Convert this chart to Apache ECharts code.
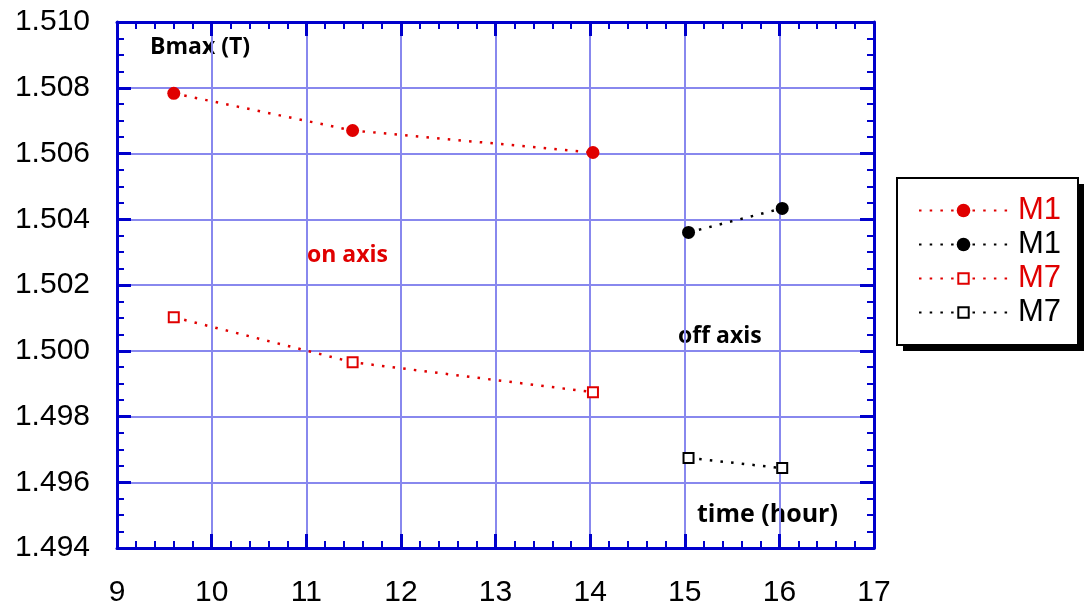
<!DOCTYPE html>
<html><head><meta charset="utf-8">
<script src="https://cdn.jsdelivr.net/npm/echarts@6/dist/echarts.min.js"></script>
<style>html,body{margin:0;padding:0;background:#fff}#c{width:1084px;height:608px}</style>
</head><body><div id="c"></div>
<script>
const m1OnX = [9.6, 11.49, 14.03];
const m1OnY = [1.50783, 1.50670, 1.50603];
const m1OffX = [15.04, 16.03];
const m1OffY = [1.50360, 1.50433];
const m7OnX = [9.6, 11.49, 14.03];
const m7OnY = [1.50102, 1.49965, 1.49874];
const m7OffX = [15.04, 16.03];
const m7OffY = [1.49674, 1.49643];
const pairs = (xs, ys) => xs.map((x, i) => [x, ys[i]]);

const RED = '#e00000', BLUE = '#0000cc', GRID = '#8888ee';
const FONT = 'Liberation Sans, Arial, sans-serif';
const dotted = { width: 2.5, type: [2.5, 8.2] };
const ANN = 'bold 23px "Open Sans", sans-serif';

function axisCommon(showLabel) {
  return {
    axisLine: { show: true, onZero: false, lineStyle: { color: BLUE, width: 3 } },
    axisTick: { show: true, inside: true, length: 14, lineStyle: { color: BLUE, width: 3 } },
    minorTick: { show: true, splitNumber: 5, length: 7, lineStyle: { color: BLUE, width: 2 } },
    axisLabel: { show: showLabel, color: '#000', fontSize: 30, fontFamily: FONT },
  };
}
const legendBase = {
  orient: 'vertical', left: 913, itemWidth: 89, itemGap: 3,
  formatter: n => n.split(' ')[0],
  textStyle: { fontSize: 31, fontFamily: FONT, color: '#000', padding: [0, 0, 0, 5] }
};

const chart = echarts.init(document.getElementById('c'), null, { renderer: 'canvas' });
chart.setOption({
  animation: false,
  grid: { left: 117, right: 210, top: 22, bottom: 60 },
  xAxis: [
    Object.assign(axisCommon(true), { type: 'value', min: 9, max: 17, interval: 1, position: 'bottom',
      splitLine: { show: true, lineStyle: { color: GRID, width: 2 } },
      axisLabel: { show: true, color: '#000', fontSize: 30, fontFamily: FONT, margin: 30 } }),
    Object.assign(axisCommon(false), { type: 'value', min: 9, max: 17, interval: 1, position: 'top', splitLine: { show: false } })
  ],
  yAxis: [
    Object.assign(axisCommon(true), { type: 'value', min: 1.494, max: 1.510, interval: 0.002, position: 'left',
      minorTick: { show: true, splitNumber: 4, length: 7, lineStyle: { color: BLUE, width: 2 } },
      splitLine: { show: true, lineStyle: { color: GRID, width: 2 } },
      axisLabel: { show: true, color: '#000', fontSize: 30, fontFamily: FONT, margin: 27, formatter: v => v.toFixed(3) } }),
    Object.assign(axisCommon(false), { type: 'value', min: 1.494, max: 1.510, interval: 0.002, position: 'right',
      minorTick: { show: true, splitNumber: 4, length: 7, lineStyle: { color: BLUE, width: 2 } },
      splitLine: { show: false } })
  ],
  legend: [
    Object.assign({}, legendBase, { top: 190, itemHeight: 17,
      data: [ { name: 'M1 on', textStyle: { color: RED } }, { name: 'M1 off' } ] }),
    Object.assign({}, legendBase, { top: 258, itemHeight: 13,
      data: [ { name: 'M7 on', textStyle: { color: RED } }, { name: 'M7 off' } ] })
  ],
  series: [
    { name: 'M1 on', type: 'line', data: pairs(m1OnX, m1OnY), symbol: 'circle', symbolSize: 13,
      itemStyle: { color: RED }, lineStyle: Object.assign({ color: RED }, dotted) },
    { name: 'M1 off', type: 'line', data: pairs(m1OffX, m1OffY), symbol: 'circle', symbolSize: 13,
      itemStyle: { color: '#000' }, lineStyle: Object.assign({ color: '#000' }, dotted) },
    { name: 'M7 on', type: 'line', data: pairs(m7OnX, m7OnY), symbol: 'rect', symbolSize: 10,
      itemStyle: { color: '#fff', borderColor: RED, borderWidth: 2 }, lineStyle: Object.assign({ color: RED }, dotted) },
    { name: 'M7 off', type: 'line', data: pairs(m7OffX, m7OffY), symbol: 'rect', symbolSize: 10,
      itemStyle: { color: '#fff', borderColor: '#000', borderWidth: 2 }, lineStyle: Object.assign({ color: '#000' }, dotted) }
  ],
  graphic: [
    { type: 'rect', z: -1, shape: { x: 903, y: 184, width: 181, height: 167 }, style: { fill: '#000' } },
    { type: 'rect', z: 0, shape: { x: 897, y: 178, width: 181, height: 167 }, style: { fill: '#fff', stroke: '#000', lineWidth: 2 } },
    { type: 'text', x: 150, y: 47, style: { text: 'Bmax (T)', font: ANN, fill: '#000', verticalAlign: 'middle' } },
    { type: 'text', x: 307, y: 255, style: { text: 'on axis', font: ANN, fill: RED, verticalAlign: 'middle' } },
    { type: 'text', x: 678, y: 336, style: { text: 'off axis', font: ANN, fill: '#000', verticalAlign: 'middle' } },
    { type: 'text', x: 697, y: 515, style: { text: 'time (hour)', font: 'bold 25px "Open Sans", sans-serif', fill: '#000', verticalAlign: 'middle' } }
  ]
});
</script></body></html>
